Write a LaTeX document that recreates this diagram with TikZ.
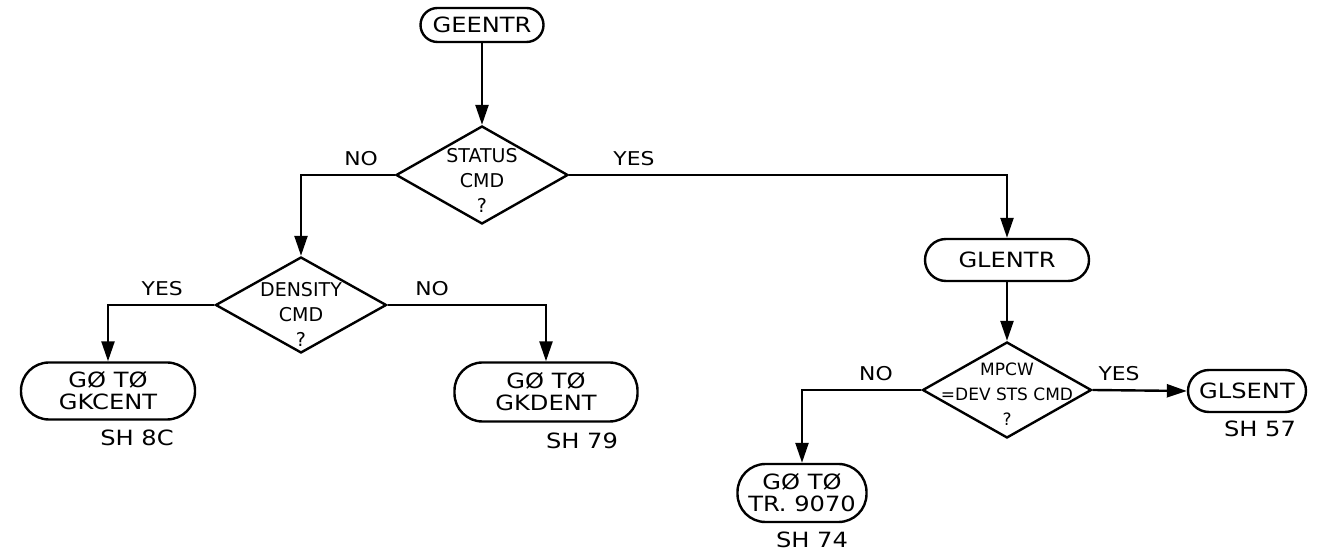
\documentclass[tikz,border=0pt]{standalone}
\usepackage{fontspec}
\setmainfont{DejaVu Sans}
\newfontfamily\widefont[FakeStretch=1.15]{DejaVu Sans}
\usetikzlibrary{arrows.meta,positioning,shapes.geometric}
\tikzset{
  term/.style    ={draw,rounded corners=14pt,align=center,inner sep=2pt,
                   font=\widefont\fontsize{10.5}{11}\selectfont,line width=1.2pt},
  cond/.style    ={draw,diamond,inner sep=0pt,line width=1.2pt},
  condtext/.style={align=center,inner sep=0pt,font=\fontsize{9.5}{12.5}\selectfont},
  lbl/.style     ={font=\widefont\fontsize{9.5}{10}\selectfont,inner sep=1pt,above=3pt},
  sheet/.style   ={font=\widefont\fontsize{10.5}{12}\selectfont,inner sep=1pt},
  flow/.style    ={-{Triangle[length=10pt,width=6.5pt]},line width=1.2pt},
}
\begin{document}
\begin{tikzpicture}[x=0.5pt,y=-0.5pt]
\useasboundingbox (0,0) rectangle (1322,560);
% top entry and first test
\node[term,rounded corners=8.5pt,minimum width=61.5pt,minimum height=17pt] (geentr) at (482,25) {GEENTR};
\node[cond,minimum width=86pt,minimum height=49pt] (status) at (482,175) {};
\node[condtext] (statustxt) at (482,180) {STATUS\\CMD\\?};
% left branch
\node[cond,minimum width=85.5pt,minimum height=48pt] (density) at (301,305) {};
\node[condtext] (densitytxt) at (301,314) {DENSITY\\CMD\\?};
\node[term,minimum width=87pt,minimum height=28.5pt] (gkcent) at (108,391) {GØ TØ\\GKCENT};
\node[term,minimum width=91.5pt,minimum height=29.5pt] (gkdent) at (546,392) {GØ TØ\\GKDENT};
\node[sheet] (sh80) at (137,438) {SH 8C};
\node[sheet] (sh79) at (582,441) {SH 79};
% right branch
\node[term,rounded corners=10.5pt,minimum width=82pt,minimum height=21pt] (glentr) at (1007,260) {GLENTR};
\node[cond,minimum width=84.5pt,minimum height=48pt] (mpcw) at (1007,390) {};
\node[condtext,font=\fontsize{8.5}{12.5}\selectfont] (mpcwtxt) at (1007,394) {MPCW\\=DEV STS CMD\\?};
\node[term,rounded corners=10.5pt,minimum width=59pt,minimum height=21pt] (glsent) at (1247,391) {GLSENT};
\node[term,minimum width=64.5pt,minimum height=29pt] (tr9070) at (802,493) {GØ TØ\\TR. 9070};
\node[sheet] (sh57) at (1260,429) {SH 57};
\node[sheet] (sh74) at (812,540) {SH 74};
% connectors
\draw[flow] (geentr) -- (status);
\draw[flow] (status.west) -| node[lbl,pos=0.18] {NO} (density.north);
\draw[flow] (status.east) -| node[lbl,pos=0.074] {YES} (glentr.north);
\draw[flow] (density.west) -| node[lbl,pos=0.245] {YES} (gkcent.north);
\draw[flow] (density.east) -| node[lbl,pos=0.14] {NO} (gkdent.north);
\draw[flow] (glentr) -- (mpcw);
\draw[flow] (mpcw.west) -| node[lbl,pos=0.19] {NO} (tr9070.north);
\draw[flow] (mpcw.east) -- node[lbl,pos=0.28] {YES} (glsent.west);
\end{tikzpicture}
\end{document}
